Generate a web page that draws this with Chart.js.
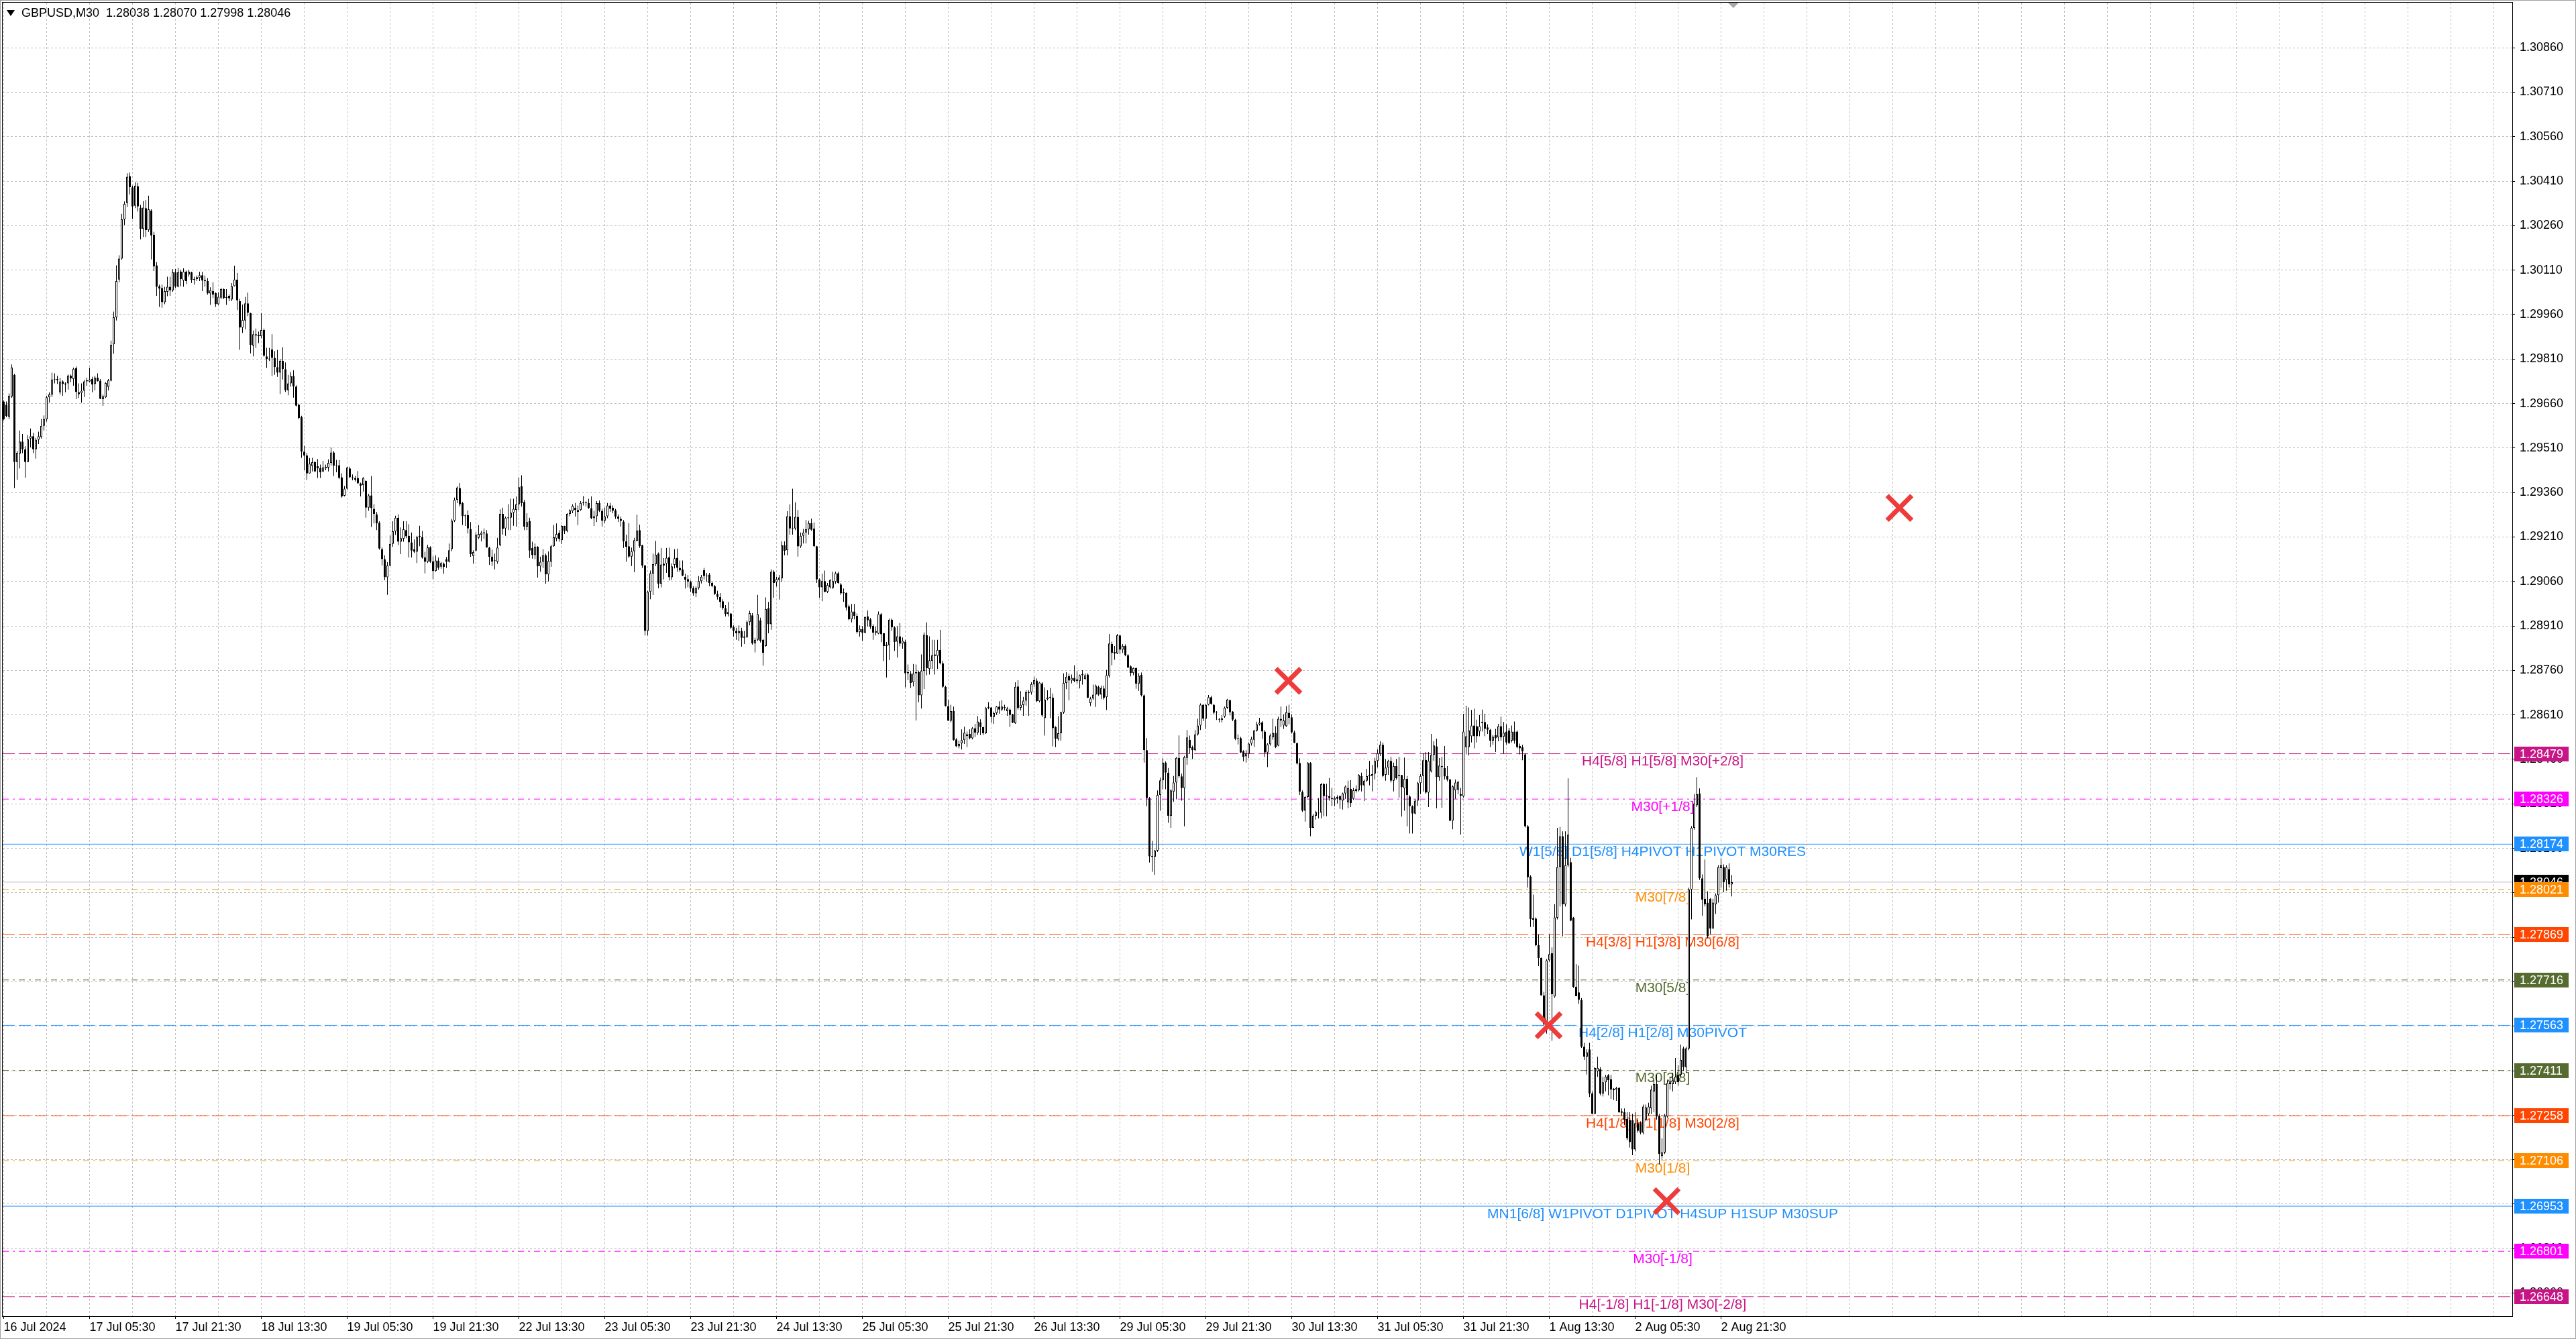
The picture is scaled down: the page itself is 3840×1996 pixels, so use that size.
<!DOCTYPE html>
<html>
<head>
<meta charset="utf-8">
<title>GBPUSD,M30</title>
<script src="https://cdn.jsdelivr.net/npm/chart.js@4.4.1/dist/chart.umd.min.js"></script>
<style>
  html, body { margin: 0; padding: 0; background: #ffffff; overflow: hidden; }
  #wrap { position: absolute; left: 0; top: 0; width: 3840px; height: 1996px; }
</style>
</head>
<body>
<div id="wrap"><canvas id="chart"></canvas></div>
<script>
// ---- data: GBPUSD M30 bars, prices in points above 1.20000 (1 point = 0.00001) ----
const openPts = [
  9667,9656,9616,9684,9757,9463,9491,9532,9506,9463, 9542,9550,9506,9538,9547,9585,9607,9681,9690,9741,
  9743,9698,9735,9728,9728,9754,9743,9779,9698,9696, 9703,9735,9734,9743,9726,9747,9737,9675,9681,9716,
  9737,9860,9951,10078,10149,10281,10336,10427,10389,10327, 10393,10321,10249,10319,10245,10311,10230,10126,10055,10050,
  10002,10037,10054,10042,10103,10054,10105,10075,10105,10095, 10103,10080,10080,10084,10093,10077,10073,10031,10039,10033,
  9995,10017,10046,10020,10023,10011,10056,10078,10005,9916, 9940,9998,9965,9856,9894,9892,9887,9908,9819,9812,
  9842,9814,9783,9764,9804,9776,9705,9728,9753,9717, 9656,9615,9498,9485,9424,9449,9462,9449,9443,9431,
  9441,9444,9460,9495,9451,9452,9411,9349,9373,9441, 9412,9409,9409,9391,9385,9399,9309,9350,9305,9286,
  9258,9169,9135,9074,9114,9187,9229,9275,9194,9204, 9233,9214,9192,9168,9160,9210,9210,9141,9126,9175,
  9128,9095,9131,9110,9120,9135,9127,9169,9265,9335, 9375,9324,9283,9284,9237,9146,9164,9207,9217,9226,
  9222,9174,9144,9131,9127,9182,9288,9239,9273,9275, 9292,9301,9320,9381,9328,9245,9264,9173,9149,9177,
  9111,9126,9149,9084,9127,9179,9205,9224,9199,9247, 9230,9288,9297,9309,9301,9301,9328,9325,9325,9307,
  9273,9280,9325,9298,9265,9280,9316,9309,9300,9279, 9271,9262,9196,9179,9144,9162,9197,9233,9182,9114,
  8893,9025,9086,9118,9154,9052,9120,9120,9142,9074, 9116,9140,9106,9101,9076,9068,9059,9038,9020,9038,
  9061,9098,9079,9083,9055,9044,9018,9008,8993,8970, 8950,8952,8906,8894,8885,8893,8874,8872,8923,8946,
  8851,8863,8929,8863,8842,8970,8916,9093,9058,9065, 9070,9182,9165,9280,9240,9239,9278,9178,9214,9225,
  9236,9257,9239,9179,9067,9040,9061,9025,9040,9038, 9059,9088,9050,9023,9021,8976,8932,8959,8944,8889,
  8899,8887,8942,8932,8910,8887,8884,8950,8885,8847, 8845,8931,8905,8857,8875,8850,8857,8754,8749,8720,
  8754,8754,8676,8758,8879,8765,8792,8814,8809,8829, 8784,8705,8640,8590,8623,8527,8504,8514,8525,8539,
  8546,8531,8565,8550,8585,8569,8548,8633,8635,8603, 8616,8638,8628,8637,8623,8628,8612,8582,8706,8634,
  8643,8658,8686,8686,8713,8726,8656,8716,8599,8663, 8671,8668,8569,8529,8548,8618,8718,8741,8726,8735,
  8724,8724,8744,8731,8746,8650,8665,8678,8705,8678, 8699,8670,8742,8849,8822,8817,8878,8830,8843,8811,
  8774,8751,8768,8715,8745,8676,8491,8329,8134,8131, 8152,8340,8389,8449,8415,8270,8351,8382,8465,8403,
  8363,8465,8526,8501,8491,8544,8574,8644,8597,8644, 8670,8644,8619,8596,8593,8604,8634,8659,8621,8594,
  8532,8532,8487,8470,8479,8513,8526,8557,8578,8585, 8554,8483,8511,8534,8549,8506,8597,8574,8572,8617,
  8602,8551,8514,8448,8350,8287,8333,8448,8229,8270, 8278,8280,8376,8338,8336,8329,8323,8334,8336,8321,
  8345,8315,8361,8327,8360,8356,8404,8372,8388,8403, 8404,8412,8455,8479,8509,8408,8432,8455,8388,8437,
  8408,8407,8362,8394,8335,8302,8277,8321,8380,8404, 8458,8348,8420,8475,8504,8400,8437,8431,8404,8392,
  8253,8356,8358,8343,8335,8501,8501,8538,8574,8572, 8554,8586,8586,8568,8560,8523,8542,8534,8572,8536,
  8554,8558,8523,8554,8554,8505,8501,8477,8234,8065, 7925,7923,7834,7790,7664,7567,7782,7806,7660,7926,
  8097,8201,7971,8103,8113,7926,7693,7674,7649,7491, 7457,7482,7333,7264,7408,7415,7333,7371,7394,7381,
  7349,7346,7352,7273,7270,7248,7243,7243,7144,7233, 7233,7201,7245,7264,7283,7340,7365,7258,7122,7134,
  7255,7371,7365,7371,7396,7396,7485,7422,7485,8021, 8229,8305,8345,8059,7990,7977,7990,7889,7971,8002,
  8093,8097,8053,8090,8038
];
const highPts = [
  9671,9667,9694,9792,9760,9500,9569,9557,9516,9554, 9576,9561,9544,9565,9608,9620,9686,9698,9764,9762,
  9754,9747,9739,9732,9758,9758,9781,9785,9728,9728, 9739,9747,9781,9750,9754,9762,9743,9690,9732,9743,
  9872,9970,10126,10160,10300,10342,10437,10439,10395,10406, 10404,10330,10343,10346,10361,10315,10239,10137,10061,10061,
  10054,10088,10088,10113,10114,10118,10111,10116,10108,10111, 10105,10088,10092,10105,10105,10092,10083,10052,10069,10035,
  10035,10050,10048,10046,10028,10066,10125,10101,10013,9994, 10020,10034,9967,9906,9913,9903,9965,9913,9848,9848,
  9894,9837,9841,9810,9850,9799,9757,9766,9772,9722, 9659,9619,9518,9493,9477,9477,9466,9473,9454,9466,
  9454,9472,9512,9500,9470,9470,9424,9382,9447,9447, 9421,9416,9432,9393,9412,9401,9355,9416,9320,9294,
  9263,9175,9148,9125,9215,9263,9282,9286,9242,9263, 9263,9253,9225,9202,9214,9248,9230,9160,9184,9179,
  9145,9148,9141,9126,9124,9143,9188,9271,9343,9381, 9392,9328,9286,9300,9260,9165,9226,9250,9230,9239,
  9233,9177,9167,9154,9207,9303,9309,9279,9320,9339, 9339,9347,9411,9418,9335,9290,9275,9194,9188,9179,
  9144,9169,9154,9161,9184,9250,9256,9233,9250,9248, 9290,9303,9320,9325,9316,9331,9348,9330,9339,9347,
  9298,9331,9333,9305,9309,9325,9325,9316,9305,9286, 9279,9267,9218,9257,9174,9207,9285,9252,9184,9116,
  9029,9097,9154,9197,9158,9173,9139,9173,9174,9121, 9169,9171,9131,9131,9086,9082,9063,9044,9043,9078,
  9082,9106,9089,9089,9059,9048,9029,9021,9000,8980, 8991,8953,8912,8904,8912,8904,8893,8929,8961,8953,
  8870,9015,8938,8866,9006,8991,9101,9098,9076,9082, 9195,9195,9297,9320,9373,9327,9301,9225,9237,9267,
  9265,9272,9259,9180,9070,9086,9097,9055,9068,9093, 9093,9093,9055,9036,9023,8982,8984,8984,8952,8912,
  8910,8942,8962,8937,8916,8908,8959,8953,8886,8856, 8935,8935,8909,8909,8920,8871,8863,8780,8758,8782,
  8780,8759,8814,8888,8922,8875,8863,8863,8863,8897, 8792,8708,8661,8644,8638,8532,8523,8561,8570,8554,
  8561,8569,8580,8606,8595,8570,8637,8653,8637,8621, 8640,8656,8659,8644,8637,8631,8614,8720,8727,8690,
  8671,8693,8693,8720,8739,8733,8721,8720,8703,8693, 8701,8682,8572,8606,8621,8750,8754,8749,8746,8777,
  8758,8746,8761,8750,8750,8671,8712,8712,8709,8709, 8709,8762,8883,8857,8842,8883,8881,8849,8848,8815,
  8777,8770,8770,8751,8753,8679,8532,8333,8185,8155, 8355,8398,8464,8453,8431,8359,8404,8468,8541,8412,
  8472,8559,8540,8506,8559,8597,8649,8646,8646,8677, 8674,8646,8623,8600,8609,8638,8664,8662,8623,8597,
  8544,8536,8491,8491,8517,8536,8559,8587,8600,8589, 8559,8514,8547,8597,8572,8604,8638,8612,8639,8644,
  8612,8557,8517,8464,8355,8336,8451,8451,8276,8287, 8329,8380,8380,8378,8397,8364,8335,8339,8339,8348,
  8372,8388,8390,8364,8372,8410,8415,8392,8428,8455, 8441,8465,8493,8521,8517,8461,8458,8469,8449,8461,
  8469,8408,8466,8404,8339,8305,8327,8384,8410,8481, 8485,8485,8546,8521,8530,8465,8469,8505,8437,8394,
  8372,8392,8388,8364,8614,8641,8635,8627,8631,8594, 8610,8628,8614,8578,8563,8542,8563,8580,8604,8586,
  8578,8566,8574,8588,8558,8513,8509,8481,8238,8069, 8004,7927,7870,7792,7676,7786,7870,7826,7972,8229,
  8232,8217,8217,8396,8128,7929,7769,7765,7655,7504, 7482,7504,7340,7422,7457,7422,7390,7396,7399,7396,
  7352,7356,7356,7283,7283,7270,7270,7264,7270,7245, 7239,7296,7296,7302,7359,7378,7397,7264,7182,7264,
  7378,7390,7403,7453,7428,7498,7491,7491,8027,8235, 8343,8400,8362,8072,8122,8015,7992,7990,8008,8103,
  8126,8106,8103,8109,8070
];
const lowPts = [
  9603,9614,9607,9679,9375,9403,9441,9493,9410,9463, 9512,9493,9474,9523,9542,9569,9599,9663,9682,9728,
  9726,9690,9686,9698,9707,9732,9720,9675,9679,9663, 9682,9720,9732,9698,9705,9735,9675,9652,9679,9704,
  9735,9828,9940,10069,10145,10262,10323,10365,10283,10319, 10308,10214,10222,10222,10239,10146,10107,10023,9986,9983,
  9995,10022,10023,10037,10050,10052,10055,10054,10063,10088, 10067,10061,10073,10073,10039,10054,10027,9993,10016,9986,
  9992,10012,10012,9993,10005,10005,10055,9975,9841,9898, 9910,9955,9829,9819,9848,9864,9880,9818,9780,9803,
  9753,9757,9750,9692,9741,9699,9688,9717,9680,9650, 9607,9477,9435,9403,9424,9431,9428,9409,9409,9428,
  9435,9431,9451,9416,9428,9405,9343,9347,9370,9409, 9401,9397,9389,9347,9363,9275,9298,9244,9256,9233,
  9167,9114,9064,9015,9112,9177,9217,9183,9152,9194, 9206,9141,9141,9156,9122,9179,9137,9087,9122,9122,
  9068,9093,9099,9103,9086,9105,9124,9162,9260,9324, 9313,9250,9247,9222,9143,9120,9162,9203,9195,9203,
  9174,9116,9112,9101,9120,9179,9218,9214,9233,9233, 9248,9245,9301,9313,9233,9233,9139,9137,9135,9073,
  9093,9105,9052,9060,9109,9177,9195,9194,9186,9220, 9226,9280,9290,9279,9250,9298,9316,9313,9305,9270,
  9247,9260,9294,9245,9257,9273,9295,9290,9271,9260, 9245,9173,9127,9139,9112,9091,9195,9173,9105,8878,
  8878,9000,9014,9112,9037,9040,9067,9089,9063,9065, 9104,9093,9093,9078,9036,9040,9025,9012,9007,9033,
  9053,9067,9059,9044,9040,9014,8999,8972,8965,8942, 8942,8900,8874,8863,8859,8840,8849,8870,8912,8847,
  8821,8859,8854,8776,8840,8885,8897,9005,9043,8999, 9059,9148,9148,9218,9218,9233,9144,9173,9188,9188,
  9218,9231,9176,9055,9005,8993,9023,9021,9036,9035, 9052,9052,9015,8991,8962,8929,8922,8932,8884,8874,
  8859,8885,8908,8900,8863,8878,8882,8855,8792,8736, 8795,8894,8826,8803,8841,8833,8703,8727,8701,8706,
  8591,8653,8631,8697,8744,8746,8765,8746,8765,8780, 8701,8638,8590,8585,8523,8501,8497,8493,8512,8501,
  8527,8527,8535,8542,8542,8542,8546,8629,8584,8580, 8610,8614,8623,8625,8607,8569,8582,8580,8628,8625,
  8607,8641,8607,8678,8705,8653,8652,8603,8540,8659, 8599,8504,8501,8523,8523,8614,8697,8659,8716,8720,
  8716,8699,8712,8729,8667,8640,8660,8637,8674,8663, 8661,8627,8736,8777,8796,8815,8815,8819,8808,8768,
  8740,8744,8698,8691,8672,8449,8302,8112,8081,8071, 8148,8287,8359,8359,8246,8229,8317,8325,8397,8321,
  8234,8442,8480,8461,8487,8540,8559,8589,8563,8642, 8644,8612,8593,8585,8585,8600,8630,8608,8589,8525,
  8510,8481,8453,8449,8464,8506,8502,8554,8574,8529, 8468,8434,8506,8526,8498,8504,8569,8563,8569,8578,
  8547,8514,8443,8340,8283,8250,8329,8201,8229,8257, 8261,8261,8268,8268,8321,8303,8302,8311,8293,8291,
  8327,8295,8299,8323,8348,8352,8352,8319,8384,8372, 8352,8392,8433,8471,8400,8388,8408,8382,8352,8392,
  8331,8267,8287,8234,8210,8210,8275,8303,8343,8352, 8344,8299,8416,8455,8295,8388,8297,8392,8386,8251,
  8224,8327,8343,8206,8331,8477,8473,8517,8497,8517, 8538,8554,8538,8546,8501,8509,8485,8521,8523,8479,
  8509,8512,8517,8513,8497,8477,8457,8230,8028,7895, 7895,7830,7763,7663,7563,7535,7778,7511,7656,7920,
  7964,7863,7964,8097,7914,7689,7661,7636,7487,7446, 7397,7321,7264,7264,7389,7327,7323,7340,7327,7315,
  7311,7308,7268,7258,7226,7176,7151,7125,7138,7201, 7195,7195,7239,7258,7264,7270,7245,7094,7113,7129,
  7251,7346,7340,7365,7359,7390,7409,7403,7479,7920, 8223,8299,8053,7933,7964,7857,7870,7889,7939,7977,
  8027,8012,8017,8027,7998
];
const closePts = [
  9607,9618,9686,9782,9463,9494,9532,9506,9463,9540, 9550,9506,9538,9550,9585,9608,9681,9691,9741,9743,
  9739,9734,9726,9724,9754,9745,9777,9699,9691,9703, 9735,9739,9741,9724,9747,9735,9676,9684,9729,9739,
  9858,9951,10073,10149,10281,10333,10425,10390,10325,10395, 10325,10249,10321,10245,10315,10227,10122,10054,10048,10002,
  10039,10054,10042,10103,10055,10103,10080,10105,10073,10105, 10077,10077,10086,10093,10075,10073,10031,10042,10027,9995,
  10020,10046,10016,10016,10015,10056,10078,10008,9917,9942, 9998,9967,9858,9894,9890,9887,9908,9822,9810,9809,
  9814,9783,9764,9804,9776,9705,9728,9753,9717,9653, 9611,9498,9485,9424,9457,9462,9431,9441,9428,9444,
  9447,9460,9495,9451,9449,9409,9347,9373,9444,9411, 9409,9403,9391,9383,9409,9309,9350,9307,9288,9256,
  9171,9135,9074,9114,9187,9229,9275,9194,9206,9236, 9212,9192,9164,9160,9210,9214,9141,9126,9175,9126,
  9095,9131,9106,9122,9109,9126,9165,9265,9335,9377, 9320,9280,9280,9239,9152,9159,9217,9220,9224,9222,
  9174,9143,9127,9129,9174,9288,9237,9275,9276,9292, 9305,9320,9378,9324,9245,9260,9164,9149,9177,9111,
  9126,9149,9084,9129,9179,9209,9220,9203,9247,9230, 9288,9300,9315,9301,9294,9325,9325,9328,9307,9273,
  9280,9324,9298,9265,9279,9316,9305,9298,9279,9271, 9264,9196,9177,9144,9162,9199,9232,9179,9114,8893,
  9025,9088,9118,9150,9052,9117,9114,9140,9074,9111, 9138,9106,9098,9080,9065,9059,9036,9020,9038,9061,
  9076,9078,9077,9055,9044,9018,9008,8991,8970,8950, 8957,8904,8894,8885,8893,8870,8870,8923,8953,8851,
  8863,8950,8859,8819,8967,8916,9093,9055,9068,9073, 9182,9163,9280,9239,9239,9278,9178,9214,9225,9236,
  9257,9234,9179,9067,9040,9061,9025,9048,9065,9061, 9088,9055,9020,9020,8972,8932,8959,8944,8889,8900,
  8887,8940,8929,8908,8887,8893,8950,8882,8842,8842, 8931,8905,8856,8875,8850,8860,8750,8750,8718,8749,
  8750,8676,8759,8880,8767,8794,8811,8809,8829,8784, 8705,8640,8590,8623,8525,8504,8512,8525,8550,8545,
  8531,8565,8550,8588,8569,8548,8633,8637,8603,8616, 8638,8628,8638,8633,8631,8610,8584,8705,8633,8644,
  8658,8686,8684,8714,8727,8656,8719,8608,8661,8668, 8668,8565,8529,8548,8618,8718,8739,8726,8735,8724,
  8730,8744,8748,8744,8668,8665,8678,8708,8678,8701, 8667,8744,8851,8819,8817,8879,8830,8842,8811,8770,
  8751,8768,8715,8742,8676,8491,8329,8133,8131,8152, 8340,8389,8449,8415,8270,8355,8382,8465,8403,8363,
  8468,8534,8498,8491,8544,8574,8644,8597,8644,8670, 8647,8617,8617,8594,8599,8634,8661,8619,8594,8529,
  8529,8483,8468,8481,8513,8529,8557,8578,8584,8554, 8483,8511,8541,8549,8501,8597,8591,8591,8619,8600,
  8551,8516,8446,8351,8287,8333,8448,8229,8270,8282, 8280,8376,8336,8335,8329,8326,8329,8327,8323,8345,
  8368,8364,8313,8356,8353,8407,8372,8388,8404,8407, 8410,8455,8481,8509,8404,8432,8455,8388,8437,8396,
  8404,8366,8394,8340,8302,8277,8321,8380,8404,8457, 8348,8455,8475,8507,8400,8439,8434,8402,8392,8253,
  8369,8382,8384,8337,8554,8538,8558,8574,8538,8538, 8572,8582,8563,8560,8523,8536,8531,8572,8534,8550,
  8517,8515,8554,8523,8501,8497,8487,8234,8062,7921, 7919,7833,7790,7664,7567,7782,7803,7668,7927,8097,
  8201,7971,8103,8206,7916,7693,7661,7649,7491,7457, 7472,7333,7264,7419,7419,7333,7371,7390,7378,7346,
  7344,7352,7270,7268,7243,7182,7169,7144,7233,7207, 7201,7289,7286,7289,7346,7365,7255,7129,7134,7258,
  7369,7365,7378,7390,7371,7447,7422,7485,8021,8229, 8311,8343,8059,7987,7971,7863,7889,7977,8002,8097,
  8103,8046,8097,8038,8046
];

// time labels, one every 32 bars starting at bar 0
const timeLabels = [
  '16 Jul 2024', '17 Jul 05:30', '17 Jul 21:30', '18 Jul 13:30', '19 Jul 05:30', '19 Jul 21:30',
  '22 Jul 13:30', '23 Jul 05:30', '23 Jul 21:30', '24 Jul 13:30', '25 Jul 05:30', '25 Jul 21:30',
  '26 Jul 13:30', '29 Jul 05:30', '29 Jul 21:30', '30 Jul 13:30', '31 Jul 05:30', '31 Jul 21:30',
  '1 Aug 13:30', '2 Aug 05:30', '2 Aug 21:30'
];

// price scale labels
const yTickValues = [
  1.26660, 1.26810, 1.26960, 1.27110, 1.27260, 1.27410, 1.27560, 1.27710, 1.27860, 1.28010,
  1.28160, 1.28310, 1.28460, 1.28610, 1.28760, 1.28910, 1.29060, 1.29210, 1.29360, 1.29510,
  1.29660, 1.29810, 1.29960, 1.30110, 1.30260, 1.30410, 1.30560, 1.30710, 1.30860
];

// Murrey-style levels drawn by the indicator
const levelPrices = [
  1.28479, 1.28326, 1.28174, 1.28021, 1.27869, 1.27716, 1.27563,
  1.27411, 1.27258, 1.27106, 1.26953, 1.26801, 1.26648
];
const levelTexts = [
  'H4[5/8] H1[5/8] M30[+2/8]',
  'M30[+1/8]',
  'W1[5/8] D1[5/8] H4PIVOT H1PIVOT M30RES',
  'M30[7/8]',
  'H4[3/8] H1[3/8] M30[6/8]',
  'M30[5/8]',
  'H4[2/8] H1[2/8] M30PIVOT',
  'M30[3/8]',
  'H4[1/8] H1[1/8] M30[2/8]',
  'M30[1/8]',
  'MN1[6/8] W1PIVOT D1PIVOT H4SUP H1SUP M30SUP',
  'M30[-1/8]',
  'H4[-1/8] H1[-1/8] M30[-2/8]'
];

// red cross markers (bar index, price)
const markBars = [478.75, 575.75, 619.75, 706.5];
const markPrices = [1.28725, 1.27563, 1.26970, 1.29308];

// ---- styles / layout ----
const DASH = [18, 6];
const DASHDOT = [9, 6, 3, 6];
const levelColors = ['#C71585', '#FF00FF', '#1E90FF', '#FF8C00', '#FF4500', '#556B2F', '#1E90FF',
                     '#556B2F', '#FF4500', '#FF8C00', '#1E90FF', '#FF00FF', '#C71585'];
const levelDashes = [DASH, DASHDOT, [], DASHDOT, DASH, DASHDOT, DASH, DASHDOT, DASH, DASHDOT, [], DASHDOT, DASH];
const X_MIN = -0.375, X_MAX = 934.875;
const Y_MIN = 1.26582, Y_MAX = 1.31012;
const LABEL_BAR = 618.25;
const AXIS_FONT = { family: 'Liberation Sans', size: 18 };
const GRID_COLOR = '#C0C0C0';

const n = openPts.length;
if (highPts.length !== n || lowPts.length !== n || closePts.length !== n) {
  throw new Error('length mismatch ' + [openPts.length, highPts.length, lowPts.length, closePts.length].join(','));
}

const toPrice = v => 1.2 + v / 100000;
const bars = openPts.map((_, i) => i);
const bodies = bars.map(i => ({ x: i, y: [toPrice(openPts[i]), toPrice(closePts[i])] }));
const wicks = bars.map(i => ({ x: i, y: [toPrice(lowPts[i]), toPrice(highPts[i])] }));
const bodyFill = bars.map(i => (closePts[i] >= openPts[i] ? '#ffffff' : '#000000'));
const lastClose = toPrice(closePts[n - 1]);

const gridBars = [];
for (let b = 0; b <= X_MAX; b += 16) gridBars.push(b);
const isLabelBar = v => v % 32 === 0 && v / 32 < timeLabels.length;

const levelSets = levelPrices.map((p, k) => ({
  type: 'line',
  data: [{ x: X_MIN, y: p }, { x: X_MAX, y: p }],
  borderColor: levelColors[k],
  borderWidth: 1,
  borderDash: levelDashes[k],
  pointRadius: 0,
  order: 5
}));

const bidLine = {
  type: 'line',
  data: [{ x: X_MIN, y: lastClose }, { x: X_MAX, y: lastClose }],
  borderColor: '#C0C0C0',
  borderWidth: 1,
  pointRadius: 0,
  order: 6
};

// indicator labels under the candles
const levelLabelPlugin = {
  id: 'levelLabels',
  beforeDatasetsDraw(chart) {
    const { ctx, scales: { x, y } } = chart;
    ctx.save();
    ctx.font = '21px "Liberation Sans"';
    ctx.textAlign = 'center';
    ctx.textBaseline = 'middle';
    const px = x.getPixelForValue(LABEL_BAR);
    levelPrices.forEach((p, k) => {
      ctx.fillStyle = levelColors[k];
      ctx.fillText(levelTexts[k], px, y.getPixelForValue(p) + 12);
    });
    ctx.restore();
  }
};

// frame, title, price tags
const decorPlugin = {
  id: 'decor',
  afterDraw(chart) {
    const { ctx, chartArea: a, scales: { x, y } } = chart;
    ctx.save();
    // outer window edge
    ctx.strokeStyle = '#A0A0A0';
    ctx.lineWidth = 1;
    ctx.strokeRect(0.5, 0.5, chart.width - 1, chart.height - 1);
    // plot frame
    ctx.strokeStyle = '#000000';
    ctx.strokeRect(a.left - 0.5, a.top - 0.5, a.right - a.left + 1, a.bottom - a.top + 1);

    // shift marker
    const sx = x.getPixelForValue(n - 0.4);
    ctx.fillStyle = '#A8A8A8';
    ctx.beginPath();
    ctx.moveTo(sx - 8, a.top);
    ctx.lineTo(sx + 8, a.top);
    ctx.lineTo(sx, a.top + 8);
    ctx.closePath();
    ctx.fill();

    // title
    ctx.fillStyle = '#000000';
    ctx.beginPath();
    ctx.moveTo(10, 15);
    ctx.lineTo(22, 15);
    ctx.lineTo(16, 24);
    ctx.closePath();
    ctx.fill();
    ctx.font = '18px "Liberation Sans"';
    ctx.textAlign = 'left';
    ctx.textBaseline = 'middle';
    const t = 'GBPUSD,M30  ' + [openPts[n - 1], highPts[n - 1], lowPts[n - 1], closePts[n - 1]]
      .map(v => toPrice(v).toFixed(5)).join(' ');
    ctx.fillText(t, 32, 20);

    // price tags on the right scale
    const tag = (price, bg) => {
      const py = Math.round(y.getPixelForValue(price));
      ctx.fillStyle = bg;
      ctx.fillRect(a.right + 3, py - 11, 81, 22);
      ctx.fillStyle = '#ffffff';
      ctx.font = '18px "Liberation Sans"';
      ctx.textAlign = 'left';
      ctx.textBaseline = 'middle';
      ctx.fillText(price.toFixed(5), a.right + 11, py + 1);
    };
    tag(lastClose, '#000000');
    levelPrices.forEach((p, k) => tag(p, levelColors[k]));
    ctx.restore();
  }
};

Chart.defaults.font.family = 'Liberation Sans';

new Chart(document.getElementById('chart'), {
  type: 'bar',
  data: {
    datasets: [
      {
        type: 'line',
        data: markBars.map((b, i) => ({ x: b, y: markPrices[i] })),
        showLine: false,
        pointStyle: 'crossRot',
        pointRadius: 26,
        pointBorderWidth: 7,
        pointBorderColor: '#EE3B3B',
        pointBackgroundColor: '#EE3B3B',
        order: -1
      },
      {
        data: bodies,
        backgroundColor: bodyFill,
        borderColor: '#000000',
        borderWidth: 1,
        borderSkipped: false,
        barThickness: 3,
        minBarLength: 1,
        inflateAmount: 0,
        grouped: false,
        order: 0
      },
      {
        data: wicks,
        backgroundColor: '#000000',
        borderWidth: 0,
        barThickness: 1,
        inflateAmount: 0,
        grouped: false,
        order: 1
      },
      bidLine,
      ...levelSets
    ]
  },
  options: {
    responsive: true,
    maintainAspectRatio: false,
    devicePixelRatio: 1,
    animation: false,
    events: [],
    layout: { autoPadding: false, padding: { left: 4, top: 4, right: 0, bottom: 0 } },
    plugins: { legend: { display: false }, tooltip: { enabled: false } },
    scales: {
      x: {
        type: 'linear',
        min: X_MIN,
        max: X_MAX,
        offset: false,
        afterBuildTicks: s => { s.ticks = gridBars.map(v => ({ value: v })); },
        afterFit: s => { s.height = 34; s.paddingLeft = 0; s.paddingRight = 0; },
        grid: {
          color: GRID_COLOR,
          lineWidth: 1,
          offset: false,
          drawTicks: true,
          tickLength: 4,
          tickBorderDash: [],
          tickColor: c => (c.tick && isLabelBar(c.tick.value) ? '#000000' : 'rgba(0,0,0,0)')
        },
        border: { display: false, dash: [3, 3] },
        ticks: {
          autoSkip: false,
          maxRotation: 0,
          minRotation: 0,
          align: 'start',
          padding: 2,
          color: '#000000',
          font: AXIS_FONT,
          callback: v => (isLabelBar(v) ? timeLabels[v / 32] : '')
        }
      },
      y: {
        type: 'linear',
        position: 'right',
        min: Y_MIN,
        max: Y_MAX,
        afterBuildTicks: s => { s.ticks = yTickValues.map(v => ({ value: v })); },
        afterFit: s => { s.width = 95; s.paddingTop = 0; s.paddingBottom = 0; },
        grid: { color: GRID_COLOR, lineWidth: 1, drawTicks: true, tickLength: 4, tickColor: '#000000', tickBorderDash: [] },
        border: { display: false, dash: [3, 3] },
        ticks: { padding: 7, color: '#000000', font: AXIS_FONT, callback: v => v.toFixed(5) }
      }
    }
  },
  plugins: [levelLabelPlugin, decorPlugin]
});
</script>
</body>
</html>
